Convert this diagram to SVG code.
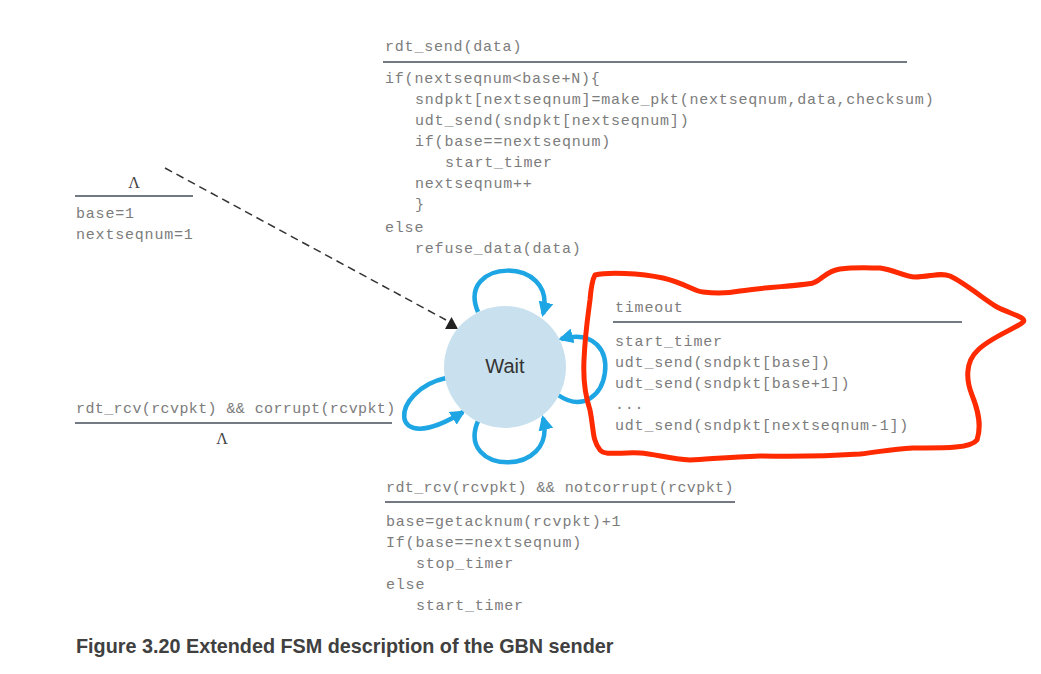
<svg xmlns="http://www.w3.org/2000/svg" width="1041" height="674" viewBox="0 0 1041 674">
<defs>
<style>
.m{font-family:"Liberation Mono","Courier New",monospace;font-size:15px;fill:#7c7c7c;letter-spacing:0.8px}
.n{letter-spacing:0.4px}
.rule{stroke:#747a84;stroke-width:2}
.loop{fill:none;stroke:#1ea5e3;stroke-width:4.5}
.lam{font-family:"Liberation Serif","Times New Roman",serif;font-size:16px;fill:#444}
</style>
<marker id="ba" markerUnits="userSpaceOnUse" markerWidth="15" markerHeight="15" viewBox="0 0 10 10" refX="8" refY="5" orient="auto">
<path d="M0,0 L10,5 L0,10 z" fill="#1ea5e3"/>
</marker>
</defs>
<rect width="1041" height="674" fill="#fff"/>

<g id="connectors">
<line x1="165" y1="168" x2="446" y2="320" stroke="#333" stroke-width="1.5" stroke-dasharray="8,5"/>
<polygon points="445,329 458,329 451.5,317" fill="#222"/>
<path class="loop" d="M 478 312 C 455 258, 558 255, 543 314" marker-end="url(#ba)"/>
<path class="loop" d="M 478 421 C 455 475, 558 478, 543 418" marker-end="url(#ba)"/>
<path class="loop" d="M 446 378 C 390 390, 385 460, 463 412" marker-end="url(#ba)"/>
<path class="loop" d="M 558 395 C 610 430, 630 320, 561 339" marker-end="url(#ba)"/>
</g>

<g id="wait">
<circle cx="505" cy="367" r="61" fill="#c9e1ee"/>
<text x="505" y="373" text-anchor="middle" font-family="'Liberation Sans',Arial,sans-serif" font-size="20" fill="#333">Wait</text>
</g>

<g id="init-label">
<text class="lam" x="134" y="188" text-anchor="middle">Λ</text>
<line class="rule" x1="75" y1="196" x2="193" y2="196"/>
<text class="m" x="76" y="218">base=1</text>
<text class="m" x="76" y="239">nextseqnum=1</text>
</g>

<g id="send-label">
<text class="m" x="385" y="51">rdt_send(data)</text>
<line class="rule" x1="383" y1="62" x2="907" y2="62"/>
<text class="m" x="385" y="83">if(nextseqnum&lt;base+N){</text>
<text class="m" x="415" y="104">sndpkt[nextseqnum]=make_pkt(nextseqnum,data,checksum)</text>
<text class="m" x="415" y="125">udt_send(sndpkt[nextseqnum])</text>
<text class="m" x="415" y="146">if(base==nextseqnum)</text>
<text class="m" x="445" y="167">start_timer</text>
<text class="m" x="415" y="188">nextseqnum++</text>
<text class="m" x="415" y="209">}</text>
<text class="m" x="385" y="232">else</text>
<text class="m" x="415" y="253">refuse_data(data)</text>
</g>

<g id="corrupt-label">
<text class="m n" x="76" y="413">rdt_rcv(rcvpkt) &amp;&amp; corrupt(rcvpkt)</text>
<line class="rule" x1="75" y1="423" x2="392" y2="423"/>
<text class="lam" x="222" y="444" text-anchor="middle">Λ</text>
</g>

<g id="timeout-label">
<text class="m" x="615" y="312">timeout</text>
<line class="rule" x1="613" y1="322" x2="962" y2="322"/>
<text class="m" x="615" y="346">start_timer</text>
<text class="m" x="615" y="367">udt_send(sndpkt[base])</text>
<text class="m" x="615" y="388">udt_send(sndpkt[base+1])</text>
<text class="m" x="615" y="409">...</text>
<text class="m" x="615" y="430">udt_send(sndpkt[nextseqnum-1])</text>
</g>

<g id="ack-label">
<text class="m n" x="386" y="492">rdt_rcv(rcvpkt) &amp;&amp; notcorrupt(rcvpkt)</text>
<line class="rule" x1="385" y1="502" x2="735" y2="502"/>
<text class="m" x="386" y="526">base=getacknum(rcvpkt)+1</text>
<text class="m" x="386" y="547">If(base==nextseqnum)</text>
<text class="m" x="416" y="568">stop_timer</text>
<text class="m" x="386" y="589">else</text>
<text class="m" x="416" y="610">start_timer</text>
</g>

<g id="highlight">
<path d="M 595 275 C 607 272, 640 273, 663 278 C 685 283, 695 292, 703 292 C 718 294, 730 293, 740 291 C 765 287, 800 286, 813 283 C 822 280, 826 271, 840 269 C 855 267, 870 268, 880 268 C 895 270, 905 277, 915 277 C 930 277, 940 272, 950 276 C 965 283, 985 300, 997 307 C 1010 314, 1030 318, 1022 323 C 1012 330, 990 338, 978 350 C 965 362, 966 380, 972 395 C 978 410, 982 425, 977 440 C 970 449, 940 448, 913 448 C 890 449, 880 452, 860 454 C 830 456, 800 457, 760 456 C 730 457, 710 459, 690 460 C 670 459, 655 454, 640 453 C 620 452, 605 456, 600 450 C 592 440, 594 430, 590 410 C 585 395, 583 380, 584 360 C 585 335, 588 315, 590 300 C 591 288, 592 280, 595 275 Z" fill="none" stroke="#ff2a00" stroke-width="5" stroke-linejoin="round"/>
</g>

<text x="76" y="653" font-family="'Liberation Sans',Arial,sans-serif" font-size="19.8" font-weight="bold" fill="#404040">Figure 3.20 Extended FSM description of the GBN sender</text>
</svg>
